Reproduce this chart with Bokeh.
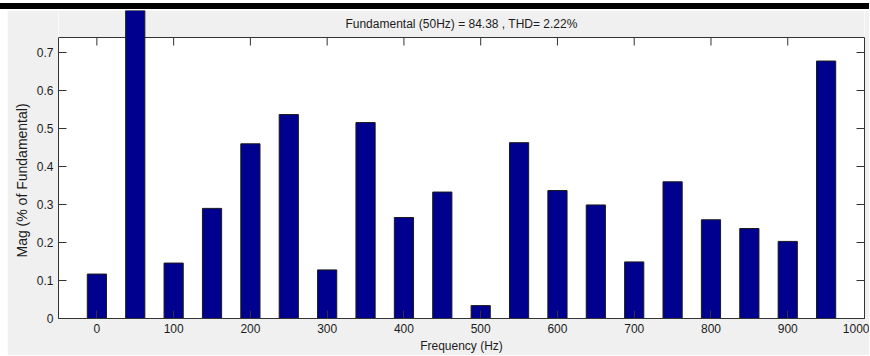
from bokeh.plotting import figure
from bokeh.models import Range1d, FixedTicker, LinearAxis, BoxAnnotation, Label, Div, ColumnDataSource, Title
from bokeh.layouts import column
from bokeh.embed import file_html
from bokeh.resources import INLINE

# ---- data ----
freqs = [0, 50, 100, 150, 200, 250, 300, 350, 400, 450,
         500, 550, 600, 650, 700, 750, 800, 850, 900, 950]
mags = [0.117, 100.0, 0.146, 0.290, 0.460, 0.537, 0.128, 0.516, 0.266, 0.333,
        0.034, 0.463, 0.337, 0.299, 0.149, 0.360, 0.260, 0.237, 0.203, 0.678]
xticks = [0, 100, 200, 300, 400, 500, 600, 700, 800, 900, 1000]
xtick_labels = ["0", "100", "200", "300", "400", "500", "600", "700", "800", "900", "1000"]
yticks = [0, 0.1, 0.2, 0.3, 0.4, 0.5, 0.6, 0.7]
ytick_labels = ["0", "0.1", "0.2", "0.3", "0.4", "0.5", "0.6", "0.7"]
title_text = "Fundamental (50Hz) = 84.38 , THD= 2.22%"
x_label = "Frequency (Hz)"
y_label = "Mag (% of Fundamental)"
XMIN, XMAX = -50, 1000
YTOP = 0.74
BAR_WIDTH = 25

# ---- layout constants ----
W, H = 862, 345
ML, MR, MB = 51, 5, 37
FH = H - MB            # frame height in px
BOX_TOP_PX = 27        # px from frame top to axes box top
YEND = YTOP * FH / (FH - BOX_TOP_PX)
PX = YEND / FH         # data units per px (vertical)

FONT = "Liberation Sans"
AX = "#333333"
TXT = "#1c1c1c"
GRAY = "#f0f0f0"

p = figure(width=W, height=H, x_range=Range1d(XMIN, XMAX), y_range=Range1d(0, YEND),
           output_backend="svg", toolbar_location=None, title=None,
           min_border_left=ML, min_border_right=MR, min_border_top=0, min_border_bottom=MB,
           background_fill_color="white", border_fill_color=GRAY, outline_line_color=None,
           margin=(0, 0, 0, 7))
p.grid.visible = False

# gray area above the axes box (inside frame so the big bar can poke out)
p.add_layout(BoxAnnotation(bottom=YTOP, fill_color=GRAY, fill_alpha=1.0,
                           line_color=None, level="underlay"))

# top edge of box and its ticks
p.segment(x0=[XMIN], y0=[YTOP], x1=[XMAX], y1=[YTOP], line_color=AX, line_width=1)
p.segment(x0=xticks, y0=[YTOP] * len(xticks), x1=xticks,
          y1=[YTOP - 8 * PX] * len(xticks), line_color=AX, line_width=1)

src = ColumnDataSource(dict(freq=freqs, mag=mags))
p.vbar(x="freq", top="mag", bottom=0, width=BAR_WIDTH, source=src,
       fill_color="#00008F", line_color="#1a1a1a", line_width=1)

def style_axis(ax):
    ax.major_tick_in = 8
    ax.major_tick_out = 0
    ax.minor_tick_in = 0
    ax.minor_tick_out = 0
    ax.axis_line_color = AX
    ax.major_tick_line_color = AX
    ax.major_label_text_font = FONT
    ax.major_label_text_font_size = "12px"
    ax.major_label_text_color = TXT
    ax.axis_label_text_font = FONT
    ax.axis_label_text_font_size = "12px"
    ax.axis_label_text_font_style = "normal"
    ax.axis_label_text_color = TXT
    ax.major_label_standoff = 5

xa = p.xaxis[0]
style_axis(xa)
xa.ticker = FixedTicker(ticks=xticks)
xa.major_label_overrides = {t: l for t, l in zip(xticks, xtick_labels)}
xa.axis_label = x_label
xa.axis_label_standoff = 3

ya = p.yaxis[0]
style_axis(ya)
ya.ticker = FixedTicker(ticks=yticks)
ya.major_label_overrides = {t: l for t, l in zip(yticks, ytick_labels)}
ya.bounds = (0, YTOP)

ra = LinearAxis(ticker=FixedTicker(ticks=yticks), bounds=(0, YTOP))
style_axis(ra)
ra.major_label_overrides = {t: "" for t in yticks}
ra.major_label_standoff = 0
p.add_layout(ra, "right")

# y axis label: a side title so it can be centred on the axes box
p.add_layout(Title(text=y_label, align="left", offset=61, vertical_align="middle",
                   standoff=6, text_font=FONT, text_font_size="14px",
                   text_font_style="normal", text_color=TXT), "left")

p.add_layout(Label(x=(XMIN + XMAX) / 2, y=YTOP + 14 * PX, text=title_text,
                   text_align="center", text_baseline="middle",
                   text_font=FONT, text_font_size="12px", text_color=TXT))

band = Div(text="", width=869, height=6, margin=(3, 0, 1, 0),
           styles={"background-color": "black"})

layout = column(band, p, spacing=0)
open("out.html", "w").write(file_html(layout, INLINE))
